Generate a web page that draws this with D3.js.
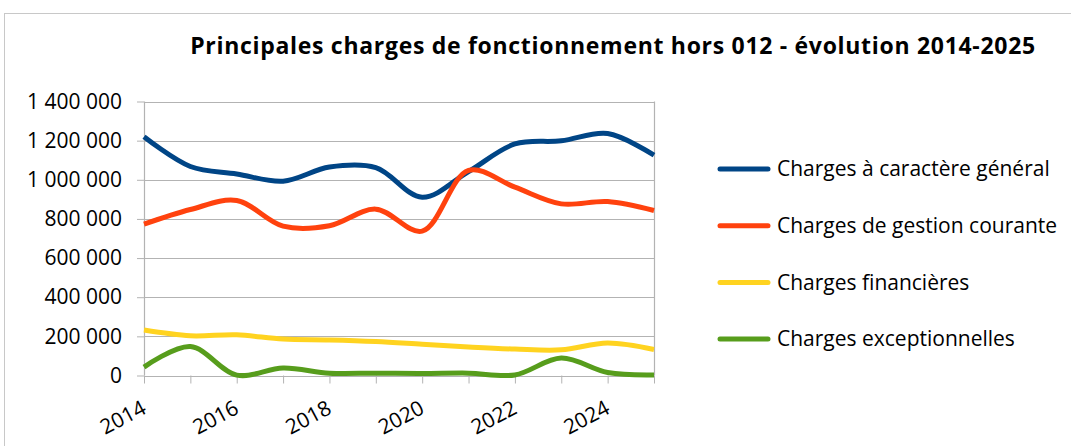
<!DOCTYPE html>
<html>
<head>
<meta charset="utf-8">
<script src="https://cdn.jsdelivr.net/npm/d3@7"></script>
<style>
  body { margin: 0; background: #fff; }
  text { font-family: "Open Sans", "Noto Sans", sans-serif; fill: #000; }
</style>
</head>
<body>
<svg id="chart" width="1071" height="446"></svg>
<script>
"use strict";

const years = [2014, 2015, 2016, 2017, 2018, 2019, 2020, 2021, 2022, 2023, 2024, 2025];
const yTicks = [0, 200000, 400000, 600000, 800000, 1000000, 1200000, 1400000];
const xLabels = [2014, 2016, 2018, 2020, 2022, 2024];

const chargesGenerales = [1220000, 1068000, 1030000, 993000, 1065000, 1062000, 911000, 1042000, 1183000, 1199000, 1236000, 1126000];
const chargesGestion = [773000, 848000, 894000, 763000, 765000, 850000, 738000, 1048000, 962000, 877000, 889000, 843000];
const chargesFinancieres = [232000, 203000, 208000, 186000, 182000, 174000, 160000, 146000, 135000, 131000, 166000, 133000];
const chargesExceptionnelles = [43000, 148000, 2000, 38000, 12000, 12000, 10000, 12000, 3000, 89000, 15000, 3000];

const seriesNames = [
  "Charges à caractère général",
  "Charges de gestion courante",
  "Charges financières",
  "Charges exceptionnelles",
];
const seriesColors = ["#004586", "#ff420e", "#ffd320", "#579d1c"];
const seriesValues = [chargesGenerales, chargesGestion, chargesFinancieres, chargesExceptionnelles];

const svg = d3.select("#chart");

// cadre gris autour du graphique
svg.append("rect")
  .attr("x", 4.5).attr("y", 13.5)
  .attr("width", 1100).attr("height", 500)
  .attr("fill", "none").attr("stroke", "#c8c8c8");

svg.append("text")
  .attr("x", 613).attr("y", 53.5)
  .attr("text-anchor", "middle")
  .attr("font-weight", "bold")
  .attr("font-size", 23)
  .attr("letter-spacing", 0.7)
  .text("Principales charges de fonctionnement hors 012 - évolution 2014-2025");

const plotLeft = 144, plotRight = 654, plotTop = 101.5, plotBottom = 375.5;

const x = d3.scaleLinear().domain([2014, 2025]).range([plotLeft, plotRight]);
const y = d3.scaleLinear().domain([0, 1400000]).range([plotBottom, plotTop]);

const fmt = (v) => d3.format(",")(v).replace(/,/g, " ");

// grille
svg.append("g")
  .selectAll("line")
  .data(yTicks)
  .enter()
  .append("line")
  .attr("x1", plotLeft).attr("x2", plotRight)
  .attr("y1", (d) => Math.round(y(d)) + 0.5)
  .attr("y2", (d) => Math.round(y(d)) + 0.5)
  .attr("stroke", "#b3b3b3").attr("stroke-width", 1.2);

svg.append("line")
  .attr("x1", plotLeft + 0.5).attr("x2", plotLeft + 0.5)
  .attr("y1", plotTop).attr("y2", plotBottom)
  .attr("stroke", "#b3b3b3").attr("stroke-width", 1.2);
svg.append("line")
  .attr("x1", plotRight + 0.5).attr("x2", plotRight + 0.5)
  .attr("y1", plotTop).attr("y2", plotBottom)
  .attr("stroke", "#b3b3b3").attr("stroke-width", 1.2);

// axe y
const yAxis = svg.append("g")
  .attr("transform", `translate(${plotLeft},0)`)
  .call(d3.axisLeft(y).tickValues(yTicks).tickFormat(fmt).tickSize(7).tickPadding(15));
yAxis.select(".domain").remove();
yAxis.selectAll(".tick line").attr("stroke", "#b3b3b3");
yAxis.selectAll("text").attr("font-size", 21).attr("fill", "#000")
  .attr("font-family", "'Open Sans', sans-serif");

// axe x
const xAxis = svg.append("g")
  .attr("transform", `translate(0,${plotBottom})`)
  .call(d3.axisBottom(x).tickValues(years).tickSize(8).tickFormat((d) => (xLabels.includes(d) ? d : "")));
xAxis.select(".domain").remove();
xAxis.selectAll(".tick line").attr("stroke", "#b3b3b3");
xAxis.selectAll("text")
  .attr("font-size", 21).attr("fill", "#000")
  .attr("font-family", "'Open Sans', sans-serif")
  .attr("text-anchor", "end")
  .attr("y", 0).attr("dy", 0)
  .attr("transform", "translate(3,37) rotate(-28)");

// courbes
const line = d3.line()
  .x((d, i) => x(years[i]))
  .y((d) => y(d))
  .curve(d3.curveCatmullRom);

svg.append("g")
  .selectAll("path")
  .data(seriesValues)
  .enter()
  .append("path")
  .attr("d", line)
  .attr("fill", "none")
  .attr("stroke", (d, i) => seriesColors[i])
  .attr("stroke-width", 5)
  .attr("stroke-linejoin", "round");

// légende
const legend = svg.append("g")
  .selectAll("g")
  .data(seriesNames)
  .enter()
  .append("g")
  .attr("transform", (d, i) => `translate(718,${169 + i * 56.7})`);

legend.append("line")
  .attr("x1", 2).attr("x2", 50)
  .attr("stroke", (d, i) => seriesColors[i])
  .attr("stroke-width", 5)
  .attr("stroke-linecap", "round");

legend.append("text")
  .attr("x", 59).attr("dy", "0.35em")
  .attr("font-size", 21)
  .text((d) => d);
</script>
</body>
</html>
